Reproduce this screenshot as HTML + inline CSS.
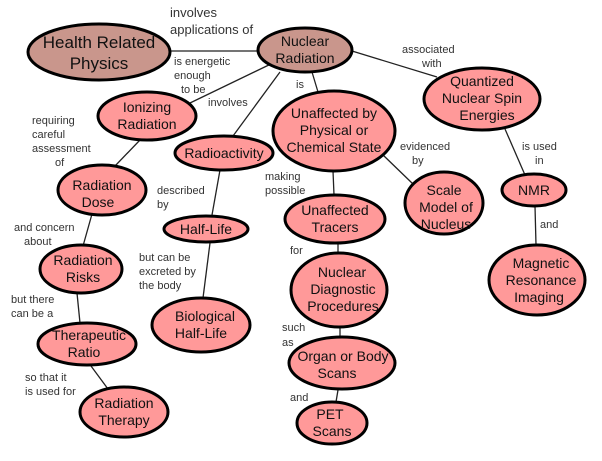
<!DOCTYPE html>
<html><head><meta charset="utf-8"><style>
html,body{margin:0;padding:0;background:#fff;}
svg{display:block;}
text{font-family:"Liberation Sans",sans-serif;fill:#111;}
.n{font-size:14px;text-anchor:middle;}
.l{font-size:11px;fill:#333;}
ellipse{stroke:#000;stroke-width:3;fill:#ff9999;}
.b{fill:#c9968c;}
line{stroke:#222;stroke-width:1.3;}
</style></head><body>
<svg width="602" height="461" viewBox="0 0 602 461" xmlns="http://www.w3.org/2000/svg">
<line x1="170" y1="51" x2="259" y2="51"/>
<line x1="275" y1="62" x2="190" y2="103"/>
<line x1="280" y1="72" x2="233" y2="136"/>
<line x1="312" y1="72" x2="318" y2="92"/>
<line x1="352" y1="51" x2="437" y2="77"/>
<line x1="140" y1="140" x2="115" y2="166"/>
<line x1="220" y1="170" x2="212" y2="215"/>
<line x1="333" y1="171" x2="334" y2="195"/>
<line x1="383" y1="155" x2="413" y2="184"/>
<line x1="505" y1="129" x2="525" y2="175"/>
<line x1="535" y1="206" x2="536" y2="245"/>
<line x1="92" y1="214" x2="83" y2="246"/>
<line x1="210" y1="243" x2="203" y2="298"/>
<line x1="338" y1="243" x2="338" y2="253"/>
<line x1="77" y1="293" x2="80" y2="323"/>
<line x1="340" y1="327" x2="340" y2="337"/>
<line x1="91" y1="366" x2="108" y2="389"/>
<line x1="338" y1="390" x2="336" y2="402"/>
<ellipse class="b" cx="99" cy="52" rx="71" ry="28"/>
<text class="n" style="font-size:17px" x="99" y="48">Health Related</text>
<text class="n" style="font-size:17px" x="99" y="69">Physics</text>
<ellipse class="b" cx="305" cy="50" rx="47" ry="22"/>
<text class="n" x="305" y="46">Nuclear</text>
<text class="n" x="305" y="63">Radiation</text>
<ellipse cx="147" cy="116" rx="49" ry="24"/>
<text class="n" x="147" y="112">Ionizing</text>
<text class="n" x="147" y="129">Radiation</text>
<ellipse cx="224" cy="153" rx="49" ry="17"/>
<text class="n" x="224" y="158">Radioactivity</text>
<ellipse cx="334" cy="131" rx="61" ry="40"/>
<text class="n" x="334" y="118">Unaffected by</text>
<text class="n" x="334" y="135">Physical or</text>
<text class="n" x="334" y="152">Chemical State</text>
<ellipse cx="482" cy="99" rx="58" ry="31"/>
<text class="n" x="482" y="86">Quantized</text>
<text class="n" x="482" y="103">Nuclear Spin</text>
<text class="n" x="487" y="120">Energies</text>
<ellipse cx="102" cy="190" rx="44" ry="25"/>
<text class="n" x="102" y="190">Radiation</text>
<text class="n" x="98" y="207">Dose</text>
<ellipse cx="444" cy="203" rx="39" ry="31"/>
<text class="n" x="444" y="195">Scale</text>
<text class="n" x="446" y="212">Model of</text>
<text class="n" x="446" y="229">Nucleus</text>
<ellipse cx="534" cy="190" rx="32" ry="16"/>
<text class="n" x="534" y="195">NMR</text>
<ellipse cx="335" cy="219" rx="50" ry="24"/>
<text class="n" x="335" y="215">Unaffected</text>
<text class="n" x="335" y="232">Tracers</text>
<ellipse cx="206" cy="229" rx="42" ry="13"/>
<text class="n" x="206" y="234">Half-Life</text>
<ellipse cx="81" cy="269" rx="41" ry="24"/>
<text class="n" x="83" y="265">Radiation</text>
<text class="n" x="83" y="282">Risks</text>
<ellipse cx="339" cy="290" rx="48" ry="37"/>
<text class="n" x="342" y="277">Nuclear</text>
<text class="n" x="343" y="294">Diagnostic</text>
<text class="n" x="343" y="311">Procedures</text>
<ellipse cx="537" cy="280" rx="48" ry="35"/>
<text class="n" x="541" y="268">Magnetic</text>
<text class="n" x="541" y="285">Resonance</text>
<text class="n" x="539" y="302">Imaging</text>
<ellipse cx="201" cy="325" rx="49" ry="27"/>
<text class="n" x="205" y="321">Biological</text>
<text class="n" x="201" y="338">Half-Life</text>
<ellipse cx="87" cy="344" rx="49" ry="21"/>
<text class="n" x="89" y="340">Therapeutic</text>
<text class="n" x="84" y="357">Ratio</text>
<ellipse cx="342" cy="363" rx="53" ry="26"/>
<text class="n" x="343" y="361">Organ or Body</text>
<text class="n" x="337" y="378">Scans</text>
<ellipse cx="124" cy="412" rx="44" ry="25"/>
<text class="n" x="124" y="408">Radiation</text>
<text class="n" x="124" y="425">Therapy</text>
<ellipse cx="332" cy="423" rx="35" ry="21"/>
<text class="n" x="330" y="419">PET</text>
<text class="n" x="332" y="436">Scans</text>
<text class="l" style="font-size:13px" x="170" y="17">involves</text>
<text class="l" style="font-size:13px" x="170" y="34">applications of</text>
<text class="l" x="174" y="65">is energetic</text>
<text class="l" x="174" y="79">enough</text>
<text class="l" x="181" y="93">to be</text>
<text class="l" x="208" y="106">involves</text>
<text class="l" x="296" y="88">is</text>
<text class="l" x="402" y="53">associated</text>
<text class="l" x="422" y="67">with</text>
<text class="l" x="32" y="124">requiring</text>
<text class="l" x="32" y="138">careful</text>
<text class="l" x="32" y="152">assessment</text>
<text class="l" x="55" y="166">of</text>
<text class="l" x="157" y="194">described</text>
<text class="l" x="157" y="208">by</text>
<text class="l" x="265" y="180">making</text>
<text class="l" x="265" y="194">possible</text>
<text class="l" x="400" y="150">evidenced</text>
<text class="l" x="412" y="164">by</text>
<text class="l" x="522" y="150">is used</text>
<text class="l" x="535" y="164">in</text>
<text class="l" x="540" y="228">and</text>
<text class="l" x="14" y="231">and concern</text>
<text class="l" x="24" y="245">about</text>
<text class="l" x="139" y="261">but can be</text>
<text class="l" x="139" y="275">excreted by</text>
<text class="l" x="139" y="289">the body</text>
<text class="l" x="290" y="254">for</text>
<text class="l" x="11" y="303">but there</text>
<text class="l" x="11" y="317">can be a</text>
<text class="l" x="282" y="331">such</text>
<text class="l" x="282" y="346">as</text>
<text class="l" x="25" y="381">so that it</text>
<text class="l" x="25" y="395">is used for</text>
<text class="l" x="290" y="401">and</text>
</svg>
</body></html>
